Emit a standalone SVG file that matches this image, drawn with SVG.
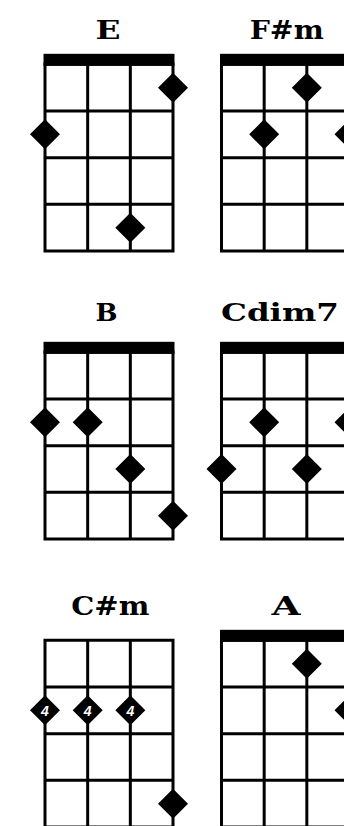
<svg xmlns="http://www.w3.org/2000/svg" xmlns:xlink="http://www.w3.org/1999/xlink" width="344" height="826" viewBox="0 0 344 826">
<style>
.grid{fill:none;stroke:#000;stroke-width:3;stroke-linecap:square}
.nut{fill:#000}
.dot{fill:#000}
.t1{font-family:"DejaVu Serif","Liberation Serif",serif;font-weight:bold;font-size:26.5px;text-anchor:middle;fill:#000}
.t2{font-family:"DejaVu Serif","Liberation Serif",serif;font-weight:bold;font-size:24px;text-anchor:middle;fill:#000}
.fing{font-family:"Liberation Sans","DejaVu Sans",sans-serif;font-weight:bold;font-style:italic;font-size:14px;text-anchor:middle;fill:#fff}
</style>
<defs>
<path id="grid" class="grid" d="M0,0V186.67M42.67,0V186.67M85.33,0V186.67M128,0V186.67M0,0H128M0,46.67H128M0,93.33H128M0,140H128M0,186.67H128"/>
<rect id="nut" class="nut" x="-1.5" y="-10.5" width="131" height="12"/>
<path id="dia" class="dot" d="M0,-15L15,0L0,15L-15,0Z"/>
</defs>
<rect width="344" height="826" fill="#fff"/>
<g id="chord-E">
<text class="t1" x="108" y="38.5" textLength="25" lengthAdjust="spacingAndGlyphs">E</text>
<use xlink:href="#grid" x="45" y="64.3"/>
<use xlink:href="#nut" x="45" y="64.3"/>
<use xlink:href="#dia" x="173" y="87.7"/>
<use xlink:href="#dia" x="45" y="134.3"/>
<use xlink:href="#dia" x="130.33" y="227.7"/>
</g>
<g id="chord-Fsm">
<text class="t1" x="286.7" y="38.5" textLength="74" lengthAdjust="spacingAndGlyphs">F#m</text>
<use xlink:href="#grid" x="221.5" y="64.3"/>
<use xlink:href="#nut" x="221.5" y="64.3"/>
<use xlink:href="#dia" x="306.83" y="87.7"/>
<use xlink:href="#dia" x="264.17" y="134.3"/>
<use xlink:href="#dia" x="349.5" y="134.3"/>
</g>
<g id="chord-B">
<text class="t2" x="106.5" y="320.5" textLength="22" lengthAdjust="spacingAndGlyphs">B</text>
<use xlink:href="#grid" x="45" y="352.3"/>
<use xlink:href="#nut" x="45" y="352.3"/>
<use xlink:href="#dia" x="45" y="422.3"/>
<use xlink:href="#dia" x="87.67" y="422.3"/>
<use xlink:href="#dia" x="130.33" y="469"/>
<use xlink:href="#dia" x="173" y="515.7"/>
</g>
<g id="chord-Cdim7">
<text class="t2" x="280" y="320.5" textLength="118" lengthAdjust="spacingAndGlyphs">Cdim7</text>
<use xlink:href="#grid" x="221.5" y="352.3"/>
<use xlink:href="#nut" x="221.5" y="352.3"/>
<use xlink:href="#dia" x="264.17" y="422.3"/>
<use xlink:href="#dia" x="349.5" y="422.3"/>
<use xlink:href="#dia" x="221.5" y="469"/>
<use xlink:href="#dia" x="306.83" y="469"/>
</g>
<g id="chord-Csm">
<text class="t1" x="110.3" y="615" textLength="78" lengthAdjust="spacingAndGlyphs">C#m</text>
<use xlink:href="#grid" x="45" y="640.3"/>
<use xlink:href="#dia" x="45" y="710.3"/>
<use xlink:href="#dia" x="87.67" y="710.3"/>
<use xlink:href="#dia" x="130.33" y="710.3"/>
<text class="fing" x="45" y="715.5">4</text>
<text class="fing" x="87.67" y="715.5">4</text>
<text class="fing" x="130.33" y="715.5">4</text>
<use xlink:href="#dia" x="173" y="803.7"/>
</g>
<g id="chord-A">
<text class="t1" x="286" y="615" textLength="29" lengthAdjust="spacingAndGlyphs">A</text>
<use xlink:href="#grid" x="221.5" y="640.3"/>
<use xlink:href="#nut" x="221.5" y="640.3"/>
<use xlink:href="#dia" x="306.83" y="663.7"/>
<use xlink:href="#dia" x="349.5" y="710.3"/>
</g>
</svg>
